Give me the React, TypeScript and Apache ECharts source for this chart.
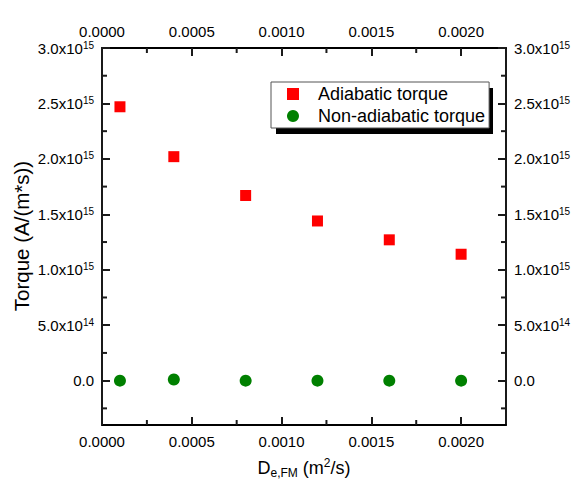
import { useEffect, useRef } from 'react';
import * as echarts from 'echarts';

// ---- data ----
const diffusion = [0.0001, 0.0004, 0.0008, 0.0012, 0.0016, 0.002];
const adiabaticTorque = [2.47e15, 2.02e15, 1.67e15, 1.44e15, 1.27e15, 1.14e15];
const nonAdiabaticTorque = [0, 1e13, 0, 0, 0, 0];
const seriesNames = ['Adiabatic torque', 'Non-adiabatic torque'];
const xMajorTicks = [0, 0.0005, 0.001, 0.0015, 0.002];
const xMinorTicks = [0.00025, 0.00075, 0.00125, 0.00175];
const yMajorTicks = [0, 5e14, 1e15, 1.5e15, 2e15, 2.5e15, 3e15];
const yMinorTicks = [-2.5e14, 2.5e14, 7.5e14, 1.25e15, 1.75e15, 2.25e15, 2.75e15];
const xRange = [0, 0.00225];
const yRange = [-4e14, 3e15];
const xTitle = '{a|D}{sub|e,FM}{a| (m}{sup|2}{a|/s)}';
const yTitle = 'Torque (A/(m*s))';

const FONT = '"Liberation Sans", Arial, Helvetica, sans-serif';
const TICK_COLOR = '#1a1a1a';
const MAJOR_LEN = 8;
const MINOR_LEN = 5;

function sciLabel(v: number): string {
  if (Math.abs(v) < 1) return '{b|0.0}';
  const e = Math.floor(Math.log10(Math.abs(v)) + 1e-9);
  const m = v / Math.pow(10, e);
  return `{b|${m.toFixed(1)}x10}{sup|${e}}`;
}

const labelRich = {
  b: { fontSize: 15, fontFamily: FONT, color: '#000', lineHeight: 16 },
  sup: { fontSize: 10, fontFamily: FONT, color: '#000', lineHeight: 10, verticalAlign: 'top' },
};

// minor tick specs: [side, value, length]; side 0=bottom, 1=top, 2=left, 3=right
const minorTickData: number[][] = [];
[0, 1].forEach((side) => xMinorTicks.forEach((v) => minorTickData.push([side, v, MINOR_LEN])));
[2, 3].forEach((side) => yMinorTicks.forEach((v) => minorTickData.push([side, v, MINOR_LEN])));

function xAxisDef(position: 'top' | 'bottom') {
  return {
    type: 'value',
    position,
    min: xRange[0],
    max: xRange[1],
    axisLine: { show: true, onZero: false, lineStyle: { color: '#000', width: 1.8 } },
    axisTick: {
      show: true,
      inside: true,
      length: MAJOR_LEN,
      customValues: xMajorTicks,
      lineStyle: { color: TICK_COLOR, width: 2 },
    },
    axisLabel: {
      show: true,
      customValues: xMajorTicks,
      formatter: (v: number) => v.toFixed(4),
      margin: 9,
      color: '#000',
      fontSize: 15,
      fontFamily: FONT,
    },
    splitLine: { show: false },
  };
}

function yAxisDef(position: 'left' | 'right') {
  return {
    type: 'value',
    position,
    min: yRange[0],
    max: yRange[1],
    axisLine: { show: true, onZero: false, lineStyle: { color: '#000', width: 1.8 } },
    axisTick: {
      show: true,
      inside: true,
      length: MAJOR_LEN,
      customValues: yMajorTicks,
      lineStyle: { color: TICK_COLOR, width: 2 },
    },
    axisLabel: {
      show: true,
      customValues: yMajorTicks,
      formatter: sciLabel,
      margin: 8,
      rich: labelRich,
    },
    splitLine: { show: false },
  };
}

export default function App() {
  const ref = useRef<HTMLDivElement>(null);

  useEffect(() => {
    if (!ref.current) return;
    const chart = echarts.init(ref.current, null, { renderer: 'svg' });
    chart.setOption({
      animation: false,
      backgroundColor: '#fff',
      grid: { left: 102, right: 69, top: 48, bottom: 69 },
      xAxis: [xAxisDef('bottom'), xAxisDef('top')],
      yAxis: [yAxisDef('left'), yAxisDef('right')],
      legend: {
        orient: 'vertical',
        left: 271,
        top: 82,
        padding: [3, 4, 3, 16],
        itemWidth: 12,
        itemHeight: 12,
        itemGap: 4,
        backgroundColor: '#fff',
        borderColor: '#555',
        borderWidth: 1,
        textStyle: { fontSize: 18, lineHeight: 18, fontFamily: FONT, color: '#000', padding: [0, 0, 0, 14] },
        data: seriesNames,
      },
      graphic: [
        { type: 'rect', z: 3, shape: { x: 276, y: 88, width: 217, height: 46 }, style: { fill: '#000' } },
        {
          type: 'text',
          x: 21,
          y: 236,
          rotation: Math.PI / 2,
          style: { text: yTitle, fontSize: 20.5, fontFamily: FONT, fill: '#000', align: 'center', verticalAlign: 'middle' },
        },
        {
          type: 'text',
          x: 304,
          y: 468,
          style: {
            text: xTitle,
            align: 'center',
            verticalAlign: 'middle',
            fill: '#000',
            rich: {
              a: { fontSize: 18, fontFamily: FONT, fill: '#000', lineHeight: 22 },
              sub: { fontSize: 12, fontFamily: FONT, fill: '#000', lineHeight: 12, verticalAlign: 'bottom' },
              sup: { fontSize: 12, fontFamily: FONT, fill: '#000', lineHeight: 12, verticalAlign: 'top' },
            },
          },
        },
      ],
      series: [
        {
          name: 'minor ticks',
          type: 'custom',
          clip: false,
          data: minorTickData,
          renderItem: (_params: any, api: any) => {
            const side = api.value(0);
            const v = api.value(1);
            const len = api.value(2);
            let p: number[];
            let q: number[];
            if (side === 0) {
              p = api.coord([v, yRange[0]]);
              q = [p[0], p[1] - len];
            } else if (side === 1) {
              p = api.coord([v, yRange[1]]);
              q = [p[0], p[1] + len];
            } else if (side === 2) {
              p = api.coord([xRange[0], v]);
              q = [p[0] + len, p[1]];
            } else {
              p = api.coord([xRange[1], v]);
              q = [p[0] - len, p[1]];
            }
            return {
              type: 'line',
              shape: { x1: p[0], y1: p[1], x2: q[0], y2: q[1] },
              style: { stroke: TICK_COLOR, lineWidth: 2 },
            };
          },
        },
        {
          name: seriesNames[0],
          type: 'scatter',
          symbol: 'rect',
          symbolSize: 11,
          itemStyle: { color: '#ff0000', opacity: 1 },
          data: diffusion.map((x, i) => [x, adiabaticTorque[i]]),
        },
        {
          name: seriesNames[1],
          type: 'scatter',
          symbol: 'circle',
          symbolSize: 12,
          itemStyle: { color: '#008000', opacity: 1 },
          data: diffusion.map((x, i) => [x, nonAdiabaticTorque[i]]),
        },
      ],
    });
    return () => chart.dispose();
  }, []);

  return <div ref={ref} style={{ position: 'absolute', left: 0, top: 0, width: 575, height: 494 }} />;
}
